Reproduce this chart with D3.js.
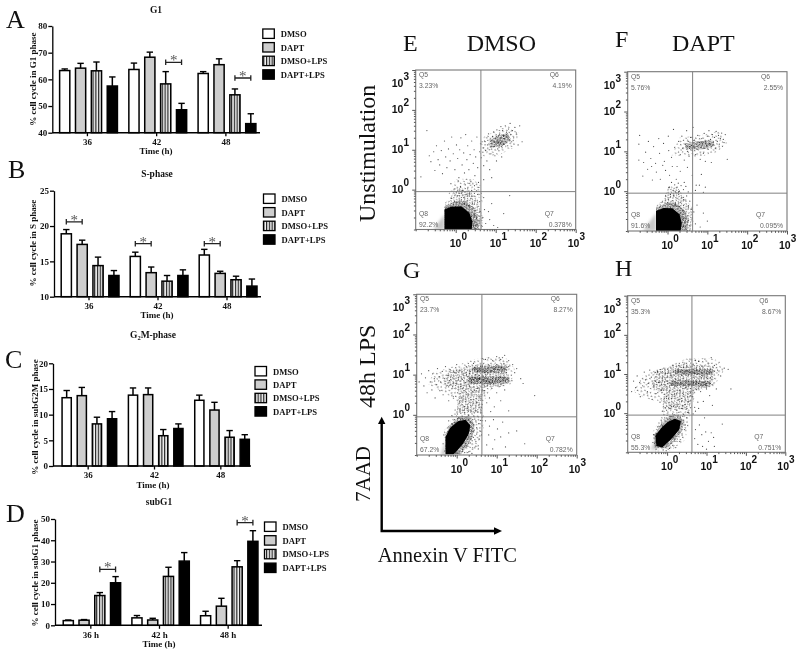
<!DOCTYPE html>
<html><head><meta charset="utf-8">
<script src="https://cdnjs.cloudflare.com/ajax/libs/d3/7.8.5/d3.min.js"></script>
<style>
html,body{margin:0;padding:0;background:#fff}
svg{display:block;filter:blur(.35px)}
text{font-family:"Liberation Serif",serif;fill:#111}
.b{font-weight:bold}
.fl{font-family:"Liberation Sans",sans-serif}
</style></head><body><div id="c"></div>
<script>
// ---------- bar chart data ----------
const treatments = ["DMSO","DAPT","DMSO+LPS","DAPT+LPS"];
const groupsPlain = ["36","42","48"];
const groupsHours = ["36 h","42 h","48 h"];

const g1Values  = [[63.3,64.2,63.2,57.5],[63.7,68.3,58.3,48.6],[62.2,65.5,54.2,43.4]];
const g1Tops    = [[63.9,66.0,66.5,60.9],[66.1,70.2,62.9,51.0],[62.9,67.7,56.4,47.1]];
const sValues   = [[18.9,17.4,14.4,13.0],[15.7,13.4,12.2,13.0],[15.9,13.3,12.4,11.5]];
const sTops     = [[19.5,18.0,15.6,13.7],[16.3,14.2,13.0,13.8],[16.7,13.6,12.9,12.5]];
const g2mValues = [[13.3,13.7,8.2,9.2],[13.8,13.9,5.9,7.3],[12.8,10.9,5.6,5.2]];
const g2mTops   = [[14.7,15.3,9.5,10.6],[15.2,15.2,7.1,8.2],[13.8,12.4,6.9,6.1]];
const subValues = [[2.2,2.4,14.0,20.0],[3.5,2.5,23.0,30.2],[4.5,9.0,27.5,39.5]];
const subTops   = [[2.5,2.7,15.4,22.9],[4.6,3.3,27.3,34.2],[6.6,12.7,30.4,44.5]];

// [group, first bar, second bar, level]
const g1Sig  = [[1,2,3,66.4],[2,2,3,60.5]];
const sSig   = [[0,0,1,20.6],[1,0,1,17.5],[2,0,1,17.5]];
const g2mSig = [];
const subSig = [[0,2,3,26.3],[2,2,3,48.3]];

// ---------- flow cytometry data (log10 decades, read by eye) ----------
const quadrantLabels = ["Q5","Q6","Q7","Q8"];
const pctE = ["3.23%","4.19%","0.378%","92.2%"];
const pctF = ["5.76%","2.55%","0.095%","91.6%"];
const pctG = ["23.7%","8.27%","0.782%","67.2%"];
const pctH = ["35.3%","8.67%","0.751%","55.3%"];

const coreE = [[-.28,-1],[-.28,-.5],[-.12,-.43],[.14,-.42],[.34,-.58],[.42,-.8],[.4,-1]];
const coreF = [[-.29,-1],[-.29,-.5],[-.1,-.42],[.12,-.43],[.3,-.58],[.36,-.8],[.33,-1]];
const coreG = [[-.28,-.98],[-.28,-.55],[-.17,-.33],[.03,-.16],[.22,-.12],[.34,-.26],[.3,-.48],[.16,-.72],[.02,-.88],[-.08,-.98]];
const coreH = [[-.27,-.84],[-.3,-.58],[-.15,-.38],[.02,-.22],[.2,-.14],[.35,-.2],[.31,-.42],[.16,-.6],[0,-.76],[-.12,-.88]];
const hazeE = [[-.56,-1],[-.28,-.62],[-.28,-1]];
const hazeF = [[-.62,-1],[-.29,-.55],[-.29,-1]];
const hazeG = [[-.4,-1],[-.27,-.6],[-.27,-1]];
const hazeH = [[-.42,-.95],[-.25,-.55],[-.2,-.9]];

// speckled density regions: [density, outline]
const regionsE = [
 ["sparse",[[.62,.85],[.95,.8],[1.45,1.05],[1.6,1.4],[1.3,1.6],[.95,1.45],[.65,1.3]]],
 ["dense",[[.85,1.05],[1.15,1.08],[1.38,1.25],[1.3,1.42],[1.02,1.35],[.85,1.22]]],
 ["sparse",[[-.2,-.15],[0,.25],[.4,.3],[.62,.1],[.7,-.4],[.6,-.2]]],
 ["medium",[[-.28,-1],[-.28,-.35],[-.1,-.15],[.1,.05],[.3,-.02],[.55,-.25],[.68,-.7],[.65,-1]]],
 ["dense",[[-.28,-1],[-.28,-.42],[0,-.3],[.25,-.28],[.48,-.5],[.58,-.78],[.56,-1]]]];
const regionsF = [
 ["sparse",[[.1,.9],[.7,.85],[1.2,.95],[1.5,1.2],[1.3,1.5],[.8,1.4],[.3,1.35]]],
 ["dense",[[.45,1.05],[.9,1.05],[1.2,1.15],[1.1,1.28],[.7,1.25],[.45,1.2]]],
 ["medium",[[-.29,-1],[-.29,-.38],[-.1,-.2],[.02,.12],[.22,.12],[.4,-.1],[.6,-.4],[.65,-.75],[.6,-1]]],
 ["dense",[[-.29,-1],[-.29,-.42],[0,-.28],[.2,-.3],[.45,-.5],[.52,-.78],[.48,-1]]]];
const regionsG = [
 ["sparse",[[-.7,.75],[-.6,1.05],[-.1,1.2],[.5,1.4],[1.2,1.45],[1.45,1.15],[1.35,.75],[.9,.68],[.65,.3],[.68,-.3],[.55,-.8],[.25,-.98],[-.27,-.98],[-.32,-.4],[-.15,-.15],[.05,.3],[-.3,.55]]],
 ["medium",[[0,.05],[.6,.05],[.7,.7],[1.2,.7],[1.3,1.25],[.5,1.25],[-.2,1.1],[-.35,.75],[.05,.6]]],
 ["dense",[[.3,.78],[.8,.76],[1.3,.78],[1.32,.94],[.8,.96],[.3,.95]]],
 ["dense",[[.45,1.04],[1.2,1.05],[1.25,1.22],[.7,1.2],[.4,1.18]]],
 ["dense",[[-.27,-.98],[-.29,-.5],[-.15,-.25],[.05,-.05],[.3,-.02],[.45,-.25],[.4,-.55],[.25,-.8],[.1,-.98]]]];
const regionsH = [
 ["sparse",[[-.85,.55],[-.6,1],[-.1,1.15],[.5,1.4],[1.2,1.4],[1.45,1.1],[1.2,.7],[.75,.55],[.6,.1],[.55,-.3],[.45,-.7],[.1,-.95],[-.3,-.98],[-.38,-.5],[-.15,-.1],[-.1,.3],[-.5,.35]]],
 ["medium",[[-.1,.1],[.55,.1],[.7,.6],[1,.65],[1.2,.85],[1.2,1.2],[.4,1.25],[-.3,1.1],[-.4,.65],[-.1,.5]]],
 ["dense",[[.2,.98],[1.15,.98],[1.15,1.12],[.2,1.12]]],
 ["dense",[[.1,.7],[1.1,.68],[1.1,.82],[.1,.84]]],
 ["dense",[[-.32,-.88],[-.33,-.55],[-.15,-.28],[.05,-.08],[.28,-.03],[.42,-.2],[.38,-.45],[.2,-.7],[0,-.9]]]];

const ptsE = [[.62,1.15],[.66,1.2],[.7,1.05],[.72,1.22],[.75,.98],[.78,1.3],[.8,1.12],[.82,1.4],[.84,1],[.86,1.25],[.88,.9],[.9,1.16],[.92,1.33],[.94,1.08],[.95,1.45],[.97,1.2],[.98,.85],[1,1.28],[1.01,1.14],[1.03,1.5],[1.04,1.22],[1.05,1.02],[1.06,1.18],[1.07,1.35],[1.08,1.2],[1.09,1.12],[1.1,1.42],[1.11,1.25],[1.12,1.17],[1.13,1.58],[1.14,1.3],[1.15,1.2],[1.16,1.05],[1.17,1.48],[1.18,1.22],[1.19,1.36],[1.2,1.14],[1.22,1.28],[1.24,1.6],[1.25,1.2],[1.27,1.44],[1.28,1.32],[1.3,1.1],[1.32,1.52],[1.34,1.25],[1.36,1.66],[1.38,1.38],[1.4,1.2],[1.42,1.48],[1.45,1.3],[1.48,1.56],[1.52,1.42],[1.56,1.12],[1.6,1.6],[1.66,1.2],[.64,.8],[.7,.6],[.78,.72],[.85,.5],[1.02,.72],[.9,.3],[1.15,.82],[.7,.25],
[-.87,.32],[-.72,1.48],[-.66,.85],[-.62,.7],[-.55,.95],[-.52,.48],[-.48,1.1],[-.44,.75],[-.4,.62],[-.36,.98],[-.33,.4],[-.28,1.22],[-.25,.82],[-.22,.55],[-.18,1.02],[-.14,.72],[-.1,1.32],[-.06,.9],[-.02,.5],[.02,1.12],[.05,.78],[.08,.3],[.1,1],[.13,1.3],[.16,.62],[.2,.92],[.22,.42],[.25,1.38],[.28,.75],[.3,1.1],[.33,.5],[.36,.88],[.38,.2],[.4,1.22],[.44,.66],[.46,1],[.48,.35],[.5,.82],[.53,1.32],[.55,.55],[.57,.18],[.6,.95],
[-.12,.15],[-.02,.02],[.06,.22],[.12,.08],[.18,-.02],[.24,.12],[.3,.02],[.35,.16],[.4,-.02],[.47,.1],[.52,-.03],[.58,.06],[-.1,-.22],[-.03,-.3],[.05,-.15],[.1,-.26],[.14,-.09],[.2,-.2],[.26,-.12],[.3,-.28],[.34,-.1],[.38,-.22],[.42,-.34],[.46,-.16],[.5,-.28],[.55,-.12],[.6,-.3],[.22,-.34],[.32,-.4],[.44,-.46],[.5,-.52],[.56,-.42],[.62,-.55],[.46,-.62],[.52,-.72],[.58,-.66],[.48,-.8],[.54,-.88],[.6,-.78],[.66,-.92],[.44,-.92],[.5,-.97],[.68,-.7],[.72,-.5],[.75,-.85],
[.85,-.75],[.95,-.9],[1.05,-.95],[.7,-.2],[.9,-.35],[1.2,-.6],[1.35,-.15],[.82,-.55]];

const ptsF = [[.15,1.55],[.02,1.38],[-.1,1.2],[-.22,1.32],[-.35,1.12],[-.48,1.25],[-.7,1.4],[-.72,1.18],[-.55,.98],[-.42,.82],[-.6,.72],[-.3,.7],[-.2,.95],[-.08,.75],[.03,1.02],[.1,.85],[.18,1.1],[.24,.62],[.28,1.25],[.32,.92],[.36,1.38],[.38,1.08],[.42,.78],[.45,1.18],[.48,1.52],[.5,1],[.52,1.25],[.54,.88],[.56,1.12],[.58,1.35],[.6,1.15],[.62,1.02],[.63,1.22],[.64,1.6],[.66,1.12],[.68,1.28],[.7,.92],[.72,1.18],[.74,1.05],[.76,1.4],[.78,1.14],[.8,1.22],[.82,.8],[.84,1.1],[.86,1.32],[.88,1.18],[.9,.95],[.92,1.45],[.94,1.08],[.96,1.25],[.98,1.15],[1,1.38],[1.02,1.05],[1.04,1.52],[1.06,1.2],[1.08,1.3],[1.1,1.12],[1.12,1.42],[1.15,1.22],[1.18,1.35],[1.2,1.08],[1.22,1.5],[1.25,1.25],[1.28,1.4],[1.3,1.18],[1.33,1.32],[1.36,1.46],[1.4,1.3],[1.45,1.42],[1.1,.72],[.95,.75],[1.5,.8],[1.42,1.22],
[-.72,.78],[-.62,.38],[-.5,.55],[-.38,.28],[-.28,.48],[-.18,.3],[-.05,.52],[.05,.4],[.12,.62],[.22,.3],[.32,.5],[.42,.22],[.5,.6],[.62,.4],[.72,.15],[.85,.42],[.95,.1],[-.4,.62],[-.12,.65],
[.05,.1],[.1,.22],[.14,.02],[.18,.16],[.2,-.02],[.24,.1],[.27,.2],[.3,0],[.34,.14],[.4,.04],[.46,.12],[.52,-.02],[.7,.02],[.8,.15],[.9,-.03],[-.05,-.12],[.02,-.2],[.07,-.08],[.12,-.24],[.16,-.12],[.2,-.3],[.24,-.18],[.28,-.08],[.32,-.28],[.36,-.16],[.4,-.36],[.44,-.22],[.48,-.12],[.52,-.38],[.56,-.25],[.6,-.45],[.3,-.38],[.38,-.48],[.44,-.55],[.5,-.62],[.38,-.7],[.44,-.78],[.52,-.74],[.4,-.88],[.47,-.95],[.56,-.86],[.62,-.68],[.66,-.52],[.7,-.82],[.74,-.35],
[.82,-.9],[1,-.75],[.9,-.55]];

const ptsG = [[-.94,.82],[-.88,1.02],[-.82,.72],[-.78,.92],[-.74,.55],[-.7,1.1],[-.66,.82],[-.62,.62],[-.6,1.02],[-.56,.9],[-.54,.42],[-.5,.75],[-.48,1.15],[-.44,.95],[-.42,.6],[-.4,.82],[-.36,1.08],[-.34,.5],[-.3,.9],[-.28,1.2],[-.26,.72],[-.22,.98],[-.2,.35],[-.18,.85],[-.16,1.12],[-.12,.65],[-.1,.92],[-.08,.45],[-.05,1.05],[-.02,.78],[0,1.25],[.02,.55],[.04,.92],[.06,.28],[.08,1.1],[.1,.7],[.12,.42],[.14,.88],[.16,1.02],[.18,.6],[.2,.2],[.22,.8],[.24,1.2],[.26,.5],[.28,.95],[.3,.12],[.32,.72],[.34,1.08],[.36,.38],[.38,.88],[.4,.58],[.42,1.28],[.44,.05],[.46,.78],[.48,1],[.5,.3],[.52,.66],[.54,.9],[.56,1.15],[.58,.45],[.6,.8],[.62,.18],[.64,1.4],[.66,.86],[.68,.6],[.7,1.05],
[.3,.85],[.34,.9],[.38,.82],[.42,.88],[.46,.92],[.5,.84],[.54,.86],[.58,.9],[.62,.83],[.66,.88],[.7,.92],[.74,.85],[.78,.89],[.82,.82],[.86,.87],[.9,.91],[.94,.84],[.98,.88],[1.02,.86],[1.06,.9],[1.1,.83],[1.14,.87],[1.18,.9],[1.22,.85],[1.26,.88],[1.3,.84],[.4,1.12],[.46,1.16],[.52,1.08],[.58,1.14],[.64,1.2],[.7,1.1],[.76,1.15],[.82,1.22],[.88,1.1],[.94,1.16],[1,1.25],[1.06,1.12],[1.12,1.18],[1.18,1.28],[1.24,1.12],[1.3,1.2],[.72,1.38],[.8,1.42],[.9,1.35],[1,1.45],[1.1,1.38],[1.2,1.48],[1.3,1.35],[1.4,1.25],[1.45,1.05],[1.38,.85],[1.5,1.15],[1.6,.9],[1.66,.78],[1.95,.48],
[.7,.6],[.76,.72],[.82,.42],[.88,.66],[.94,.2],[1,.55],[1.06,.7],[.75,.3],[.85,.08],[1.1,.35],[1.2,.62],[1.3,.1],
[-.2,-.15],[-.12,-.02],[-.04,.12],[.02,.02],[.08,.14],[.14,-.04],[.2,.06],[.26,.16],[.3,-.02],[.36,.08],[.42,-.03],[.48,.1],[.54,-.05],[.6,.05],[.66,-.03],
[-.2,-.3],[-.12,-.22],[-.05,-.12],[.02,-.1],[.1,-.12],[.3,-.12],[.35,-.2],[.4,-.12],[.36,-.3],[.42,-.25],[.48,-.15],[.5,-.32],[.55,-.22],[.6,-.14],[.38,-.42],[.44,-.38],[.5,-.48],[.58,-.4],[.3,-.55],[.36,-.6],[.42,-.56],[.48,-.66],[.56,-.6],[.62,-.5],[.22,-.72],[.28,-.78],[.34,-.7],[.4,-.82],[.48,-.78],[.54,-.85],[.14,-.86],[.2,-.94],[.3,-.92],[.38,-.96],[.02,-.95],[-.02,-.92],[-.32,-.5],[-.34,-.72],[-.3,-.9],[-.05,-.2],
[.72,-.15],[.82,-.28],[.92,-.12],[1.02,-.35],[1.15,-.18],[.8,-.5],[.95,-.62],[1.1,-.55],[1.3,-.45],[.75,-.75],[.9,-.85],[1.22,-.8],[1.5,-.4],[1.7,-.72]];

const ptsH = [[-.9,.55],[-.85,.82],[-.8,.65],[-.76,.95],[-.7,.78],[-.68,.42],[-.62,.7],[-.58,1.05],[-.55,.85],[-.5,.55],[-.48,.76],[-.44,1.1],[-.4,.92],[-.38,.35],[-.34,.7],[-.3,.82],[-.28,.5],[-.24,1.06],[-.2,.78],[-.18,.28],[-.15,.6],[-.12,.9],[-.08,1.15],[-.05,.72],[-.02,.42],[0,.82],[.02,1.02],[.05,.55],[.08,.2],[.1,.76],[.12,.95],[.15,1.22],[.18,.48],[.2,.68],[.22,.86],[.25,.08],[.28,1.08],[.3,.35],[.32,.58],[.35,.75],[.38,.96],[.4,.18],[.42,.48],[.45,1.28],[.48,.66],[.5,.85],[.52,.02],[.55,.3],[.58,.55],[.6,1.18],[.62,.72],[.65,.42],[.68,.92],[.7,.15],[.72,1.35],[.75,.6],[.78,.28],
[-.3,1.04],[-.2,1],[-.12,1.06],[-.04,1.02],[.04,1.08],[.1,1.03],[.16,1.06],[.22,1.02],[.28,1.05],[.34,1.07],[.4,1.02],[.46,1.05],[.52,1.08],[.58,1.03],[.64,1.06],[.7,1.02],[.76,1.05],[.82,1.08],[.88,1.03],[.94,1.06],[1,1.02],[1.06,1.05],[1.12,1.03],[1.2,1.07],[-.22,.78],[-.14,.74],[-.06,.8],[.02,.76],[.1,.72],[.18,.8],[.26,.75],[.34,.78],[.42,.72],[.5,.8],[.56,.74],[.62,.78],[.68,.72],[.74,.8],[.8,.76],[.86,.72],[.92,.78],[.98,.74],[1.04,.8],[1.1,.76],[1.16,.72],
[.3,1.22],[.4,1.3],[.5,1.18],[.58,1.38],[.66,1.25],[.74,1.15],[.8,1.32],[.88,1.2],[.96,1.38],[1.04,1.28],[1.12,1.42],[1.2,1.22],[1.28,1.1],[1.36,.95],[1.32,1.3],[1.45,1.15],[1.55,1.12],[1.62,.62],[.85,.55],[.92,.3],[1,.62],[1.08,.45],[1.15,.2],[1.25,.62],[.9,.95],[1,.92],[1.1,.9],
[-.12,.05],[-.05,.14],[.02,.03],[.08,.12],[.14,-.02],[.2,.1],[.26,.18],[.3,.02],[.36,.12],[.42,-.03],[.48,.1],[.54,.02],[.6,.14],[.66,-.02],[.72,.05],[.8,.12],
[-.15,-.18],[-.06,-.12],[0,-.06],[.1,-.08],[.18,-.04],[.28,-.06],[.34,-.12],[.4,-.08],[.36,-.22],[.42,-.18],[.46,-.3],[.5,-.12],[.38,-.35],[.44,-.42],[.32,-.5],[.38,-.56],[.26,-.66],[.32,-.72],[.2,-.72],[.14,-.82],[.22,-.88],[.06,-.9],[-.02,-.96],[-.1,-.94],[-.28,-.92],[-.36,-.75],[-.34,-.55],[-.24,-.35],[-.14,-.28],
[.72,-.42],[.82,-.3],[.88,-.55],[.98,-.48],[1.05,-.72],[1.12,-.5],[.78,-.8],[.9,-.85],[1,-.92],[1.18,-.62],[1.2,-.85],[.7,-.65],[1.4,-.28],[.95,-.12]];

// speckle tiles for the density regions
const tileSparse = [[1,2],[6,1],[12,3],[17,1],[3,7],[9,6],[15,7],[19,9],[1,12],[6,11],[11,10],[16,13],[4,15],[10,15],[14,16]];
const tileMedium = [[1,1],[5,2.5],[9,.7],[12.5,3],[2.5,5],[7,6],[10.5,6.8],[.5,8.5],[4.5,9.6],[8.5,10],[12,10.5],[2,12.5],[6.3,13],[10.5,13.5]];
const tileDense = [[.5,1],[3,.5],[6,1.5],[9,.8],[2,3],[4.5,3.3],[7.5,3],[10,3.5],[.8,5.5],[3.2,6],[5.8,5.4],[8.6,5.8],[1.8,8],[4.4,8.3],[7,7.8],[9.8,8.2],[.6,10.3],[3,10.6],[5.6,10],[8.2,10.5],[2,12.4],[4.8,12.2],[7.2,12.6],[10,12]];

// ---------- page ----------
const W = 800, H = 656;
const svg = d3.select("#c").append("svg").attr("width",W).attr("height",H).attr("viewBox",`0 0 ${W} ${H}`);
const defs = svg.append("defs");
const pat = defs.append("pattern").attr("id","stripes").attr("patternUnits","userSpaceOnUse").attr("width",2.8).attr("height",4);
pat.append("rect").attr("width",2.8).attr("height",4).attr("fill","#f4f4f4");
pat.append("rect").attr("width",1.2).attr("height",4).attr("fill","#222");
defs.append("filter").attr("id","soft").attr("x","-30%").attr("y","-30%").attr("width","160%").attr("height","160%")
  .append("feGaussianBlur").attr("stdDeviation",1.6);
defs.append("filter").attr("id","edge").attr("x","-10%").attr("y","-10%").attr("width","120%").attr("height","120%")
  .append("feGaussianBlur").attr("stdDeviation",.6);

function speckle(id,w,h,pts,angle,scale){
  const p = defs.append("pattern").attr("id",id).attr("patternUnits","userSpaceOnUse").attr("width",w).attr("height",h).attr("patternTransform",`rotate(${angle}) scale(${scale})`);
  p.selectAll("circle").data(pts).join("circle").attr("cx",d=>d[0]).attr("cy",d=>d[1]).attr("r",.58/scale).attr("fill","#111").attr("opacity",.85);
}
speckle("sparse",20,17,tileSparse,23,.75);
speckle("medium",14,14,tileMedium,-31,.68);
speckle("dense",11,13,tileDense,17,.66);

const fills = {"DMSO":"#fff","DAPT":"#cecece","DMSO+LPS":"url(#stripes)","DAPT+LPS":"#000"};

function text(parent,x,y,s,size,opts={}){
  const t = parent.append("text").attr("x",x).attr("y",y).attr("font-size",size).text(s);
  if(opts.bold) t.attr("font-weight","bold");
  if(opts.anchor) t.attr("text-anchor",opts.anchor);
  if(opts.rotate) t.attr("transform",`rotate(-90 ${x} ${y})`);
  return t;
}

function barChart(c){
  const g = svg.append("g");
  const y = d3.scaleLinear().domain(c.domain).range([c.y0,c.y1]);
  const x0 = d3.scaleBand().domain(c.groups).range(c.xr);
  const inner = d3.scaleBand().domain(treatments).range([0,c.step*4]).paddingInner(c.pad).paddingOuter(0);
  const off = (x0.bandwidth()-c.step*4+c.step-inner.bandwidth())/2;

  c.groups.forEach((gr,i)=>{
    const gg = g.append("g").attr("transform",`translate(${x0(gr)+off},0)`);
    treatments.forEach((t,j)=>{
      const bx = inner(t), w = inner.bandwidth(), cx = bx+w/2;
      gg.append("line").attr("x1",cx).attr("x2",cx).attr("y1",y(c.values[i][j])).attr("y2",y(c.tops[i][j])).attr("stroke","#000").attr("stroke-width",1.5);
      gg.append("line").attr("x1",cx-3.2).attr("x2",cx+3.2).attr("y1",y(c.tops[i][j])).attr("y2",y(c.tops[i][j])).attr("stroke","#000").attr("stroke-width",1.4);
      gg.append("rect").attr("x",bx+.7).attr("width",w-1.4).attr("y",y(c.values[i][j])).attr("height",y(c.domain[0])-y(c.values[i][j]))
        .attr("fill",fills[t]).attr("stroke","#000").attr("stroke-width",1.5);
    });
    c.sig.filter(s=>s[0]===i).forEach(s=>{
      const a = inner(treatments[s[1]])+inner.bandwidth()/2, b = inner(treatments[s[2]])+inner.bandwidth()/2, yy = y(s[3]);
      gg.append("path").attr("d",`M${a},${yy-2.8}V${yy+2.8}M${a},${yy}H${b}M${b},${yy-2.8}V${yy+2.8}`).attr("fill","none").attr("stroke","#222").attr("stroke-width",1.3);
      gg.append("text").attr("x",(a+b)/2).attr("y",yy+3).attr("text-anchor","middle").attr("font-size",15).style("fill","#555").text("*");
    });
  });

  const ya = g.append("g").attr("transform",`translate(${c.xa},0)`).call(d3.axisLeft(y).tickValues(c.ticks).tickSize(4).tickSizeOuter(0));
  ya.selectAll("path,line").attr("stroke","#000").attr("stroke-width",1.3);
  ya.selectAll("text").attr("font-size",9).attr("font-weight","bold").attr("font-family","Liberation Serif").attr("x",-5);
  const xa = g.append("g").attr("transform",`translate(0,${c.y0})`).call(d3.axisBottom(d3.scalePoint().domain(c.groups).range([x0(c.groups[0])+x0.bandwidth()/2,x0(c.groups[2])+x0.bandwidth()/2])).tickSize(3.5).tickSizeOuter(0));
  xa.selectAll(".domain").remove();
  xa.selectAll("line").attr("stroke","#000").attr("stroke-width",1.3);
  xa.selectAll("text").attr("font-size",9).attr("font-weight","bold").attr("font-family","Liberation Serif").attr("y",6);
  g.append("line").attr("x1",c.xa).attr("x2",c.xe).attr("y1",c.y0).attr("y2",c.y0).attr("stroke","#000").attr("stroke-width",1.5);

  const tt = text(g,c.titleX,c.titleY,c.title[0],9.5,{bold:true,anchor:"middle"});
  if(c.title[1]){ tt.append("tspan").attr("font-size",6.5).attr("dy",2).text(c.title[1]); tt.append("tspan").attr("dy",-2).text(c.title[2]); }
  text(g,c.timeX,c.y0+21.6,"Time (h)",9,{bold:true,anchor:"middle"});
  text(g,c.ylX,c.ylY,c.ylab,9,{bold:true,anchor:"middle",rotate:true});
  text(g,c.letter[1],c.letter[2],c.letter[0],26);

  treatments.forEach((t,i)=>{
    const ly = c.legY+i*c.legStep;
    g.append("rect").attr("x",c.legX).attr("y",ly).attr("width",11.5).attr("height",9.4).attr("fill",fills[t]).attr("stroke","#000").attr("stroke-width",1.3);
    text(g,c.legX+18,ly+8,t,8.6,{bold:true});
  });
}

barChart({title:["G1"],titleX:156,titleY:13,letter:["A",6,28],domain:[40,80],ticks:[40,50,60,70,80],y0:132.7,y1:26,xa:52.3,xe:260,xr:[52.3,260],groups:groupsPlain,step:14.8,pad:.27,values:g1Values,tops:g1Tops,sig:g1Sig,ylab:"% cell cycle in G1 phase",ylX:36,ylY:79,timeX:156,legX:262.8,legY:29,legStep:13.6});
barChart({title:["S-phase"],titleX:157,titleY:176.7,letter:["B",8,178],domain:[10,25],ticks:[10,15,20,25],y0:296.7,y1:190.7,xa:54,xe:261,xr:[54,261],groups:groupsPlain,step:14.8,pad:.27,values:sValues,tops:sTops,sig:sSig,ylab:"% cell cycle in S phase",ylX:36,ylY:243,timeX:157,legX:263.5,legY:194,legStep:13.6});
barChart({title:["G","2","M-phase"],titleX:153,titleY:338,letter:["C",5,368],domain:[0,20],ticks:[0,5,10,15,20],y0:466,y1:363.3,xa:53,xe:251,xr:[54.5,253.5],groups:groupsPlain,step:14,pad:.3,values:g2mValues,tops:g2mTops,sig:g2mSig,ylab:"% cell cycle in subG2M phase",ylX:38,ylY:417,timeX:153,legX:255,legY:366.5,legStep:13.4});
barChart({title:["subG1"],titleX:159,titleY:505,letter:["D",6,522],domain:[0,50],ticks:[0,10,20,30,40,50],y0:625.3,y1:519,xa:55,xe:262,xr:[56,262],groups:groupsHours,step:14.7,pad:.27,values:subValues,tops:subTops,sig:subSig,ylab:"% cell cycle in subG1 phase",ylX:38,ylY:573,timeX:159,legX:264.5,legY:522,legStep:13.7});

function flow(p){
  const g = svg.append("g");
  const x = d3.scaleLog().domain([.1,1000]).range([p.l,p.r]);
  const y = d3.scaleLog().domain([.1,1000]).range([p.b,p.t]);
  const px = d=>x(Math.pow(10,d)), py = d=>y(Math.pow(10,d));
  const line = d3.line().x(d=>px(d[0])).y(d=>py(d[1]));

  g.append("path").attr("d",line(p.haze)+"Z").attr("fill","#c8c8c8").attr("filter","url(#soft)");
  g.append("g").selectAll("path").data(p.regions).join("path")
    .attr("d",d=>line(d[1])+"Z").attr("fill",d=>`url(#${d[0]})`);
  g.append("g").selectAll("circle").data(p.pts).join("circle")
    .attr("cx",d=>px(d[0])).attr("cy",d=>py(d[1])).attr("r",.6).attr("fill","#1a1a1a").attr("opacity",.78);
  g.append("path").attr("d",line(p.core)+"Z").attr("fill","#050505").attr("filter","url(#edge)");

  g.append("rect").attr("x",p.l).attr("y",p.t).attr("width",p.r-p.l).attr("height",p.b-p.t).attr("fill","none").attr("stroke","#777").attr("stroke-width",1.1);
  g.append("line").attr("x1",px(p.qx)).attr("x2",px(p.qx)).attr("y1",p.t).attr("y2",p.b).attr("stroke","#808080").attr("stroke-width",1);
  g.append("line").attr("x1",p.l).attr("x2",p.r).attr("y1",py(p.qy)).attr("y2",py(p.qy)).attr("stroke","#808080").attr("stroke-width",1);

  const major = v=>[1,10,100,1000].includes(Math.round(v*100)/100);
  const ax = g.append("g").attr("transform",`translate(0,${p.b})`).call(d3.axisBottom(x).tickFormat("").tickSizeOuter(0).tickSize(2));
  ax.selectAll(".domain").remove();
  ax.selectAll("line").attr("stroke","#555").attr("y2",d=>major(d)?3.5:1.8);
  const ay = g.append("g").attr("transform",`translate(${p.l},0)`).call(d3.axisLeft(y).tickFormat("").tickSizeOuter(0).tickSize(2));
  ay.selectAll(".domain").remove();
  ay.selectAll("line").attr("stroke","#555").attr("x2",d=>major(d)?-3.5:-1.8);

  [0,1,2,3].forEach(e=>{
    const v = Math.pow(10,e);
    const t1 = g.append("text").attr("class","fl").attr("x",x(v)+(e===3?-8:-6)).attr("y",p.b+17.7).attr("font-size",10.5).attr("font-weight","bold").style("font-family","Liberation Sans").text("10");
    t1.append("tspan").attr("dy",-7).attr("font-size",10).text(e);
    const t2 = g.append("text").attr("class","fl").attr("x",p.l-24).attr("y",y(v)+(e===3?17:3.5)).attr("font-size",10.5).attr("font-weight","bold").style("font-family","Liberation Sans").text("10");
    t2.append("tspan").attr("dy",-7).attr("font-size",10).text(e);
  });

  const q = (xx,yy,s,a)=>g.append("text").attr("x",xx).attr("y",yy).attr("font-size",6.8).attr("text-anchor",a).style("font-family","Liberation Sans").style("fill","#666").text(s);
  q(p.l+3.3,p.t+7,quadrantLabels[0],"start"); q(p.l+3.3,p.t+18,p.pct[0],"start");
  q(p.r-26,p.t+7,quadrantLabels[1],"start"); q(p.r-4,p.t+18,p.pct[1],"end");
  q(p.r-31,p.b-13.7,quadrantLabels[2],"start"); q(p.r-4,p.b-2.7,p.pct[2],"end");
  q(p.l+3.3,p.b-13.7,quadrantLabels[3],"start"); q(p.l+3.3,p.b-2.7,p.pct[3],"start");
}
flow({l:415.7,r:575.7,t:70,b:229.5,qx:.63,qy:-.05,pts:ptsE,core:coreE,haze:hazeE,regions:regionsE,pct:pctE});
flow({l:627.7,r:787,t:71.7,b:231,qx:.63,qy:-.05,pts:ptsF,core:coreF,haze:hazeF,regions:regionsF,pct:pctF});
flow({l:416.7,r:576.7,t:294.3,b:455,qx:.63,qy:-.05,pts:ptsG,core:coreG,haze:hazeG,regions:regionsG,pct:pctG});
flow({l:627.7,r:785.3,t:295.7,b:452.3,qx:.63,qy:-.05,pts:ptsH,core:coreH,haze:hazeH,regions:regionsH,pct:pctH});

// panel headings
text(svg,403,50.7,"E",24); text(svg,466.7,50.7,"DMSO",24);
text(svg,615,47,"F",24); text(svg,672,50.7,"DAPT",24);
text(svg,403,277.7,"G",24); text(svg,615,276,"H",24);
text(svg,375,222,"Unstimulation",24,{rotate:true});
text(svg,375,408,"48h LPS",24,{rotate:true});
text(svg,370,502,"7AAD",21,{rotate:true});
text(svg,377.7,562,"Annexin V FITC",20.5);

// arrows
const arrowEnds = [[381.7,531],[381.7,421],[497,531]];
svg.append("path").attr("d",d3.line()([arrowEnds[1],arrowEnds[0],arrowEnds[2]])).attr("fill","none").attr("stroke","#000").attr("stroke-width",2.4);
svg.append("path").attr("d",d3.line()([[381.7,416.7],[378,424],[385.4,424]])+"Z").attr("fill","#000");
svg.append("path").attr("d",d3.line()([[502,531],[494,527.2],[494,534.8]])+"Z").attr("fill","#000");
</script></body></html>
